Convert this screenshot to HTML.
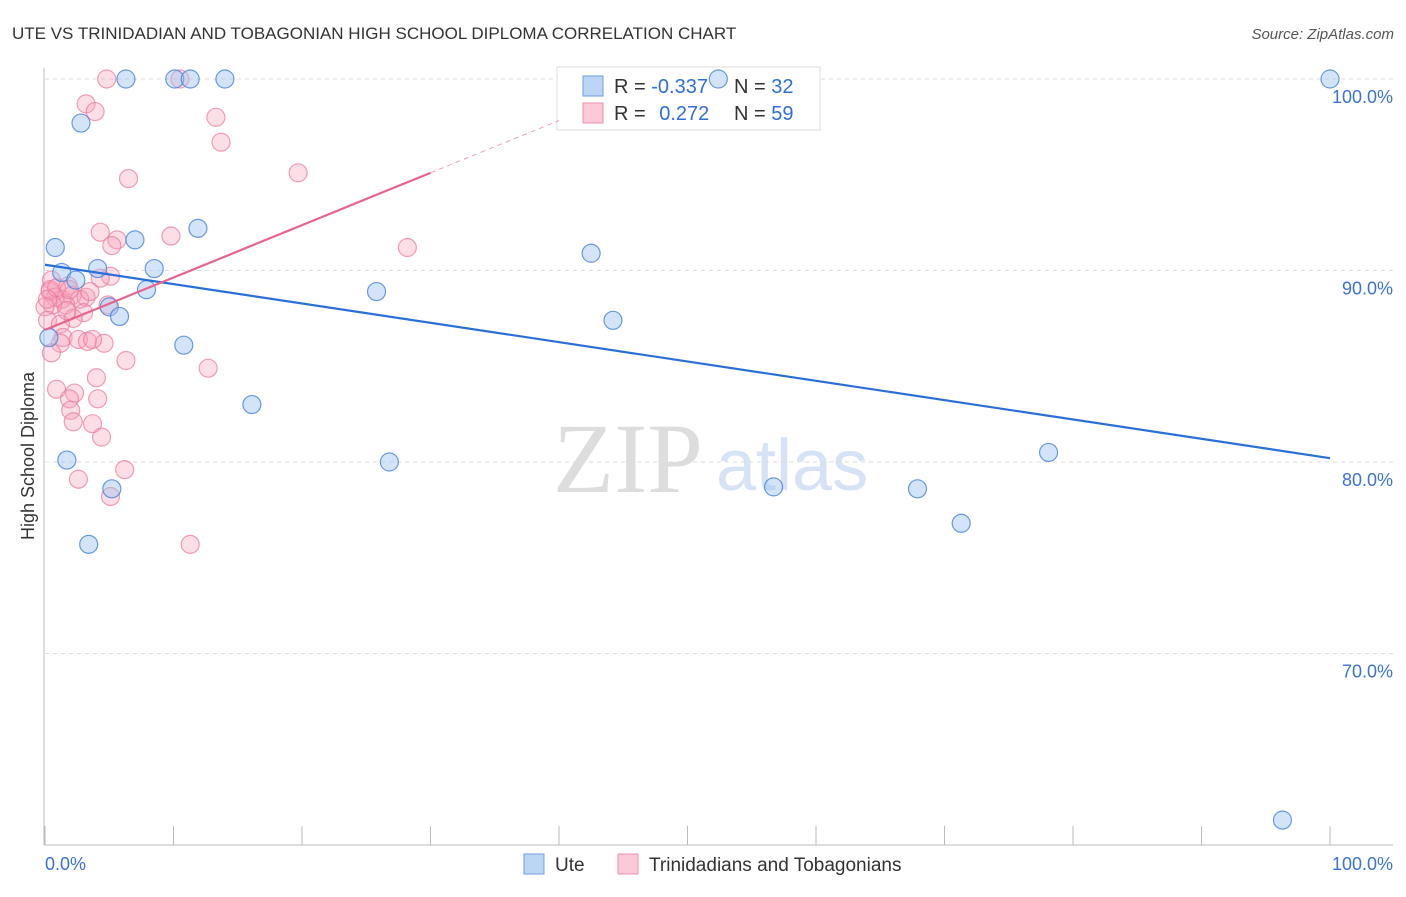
<!DOCTYPE html>
<html><head><meta charset="utf-8"><style>
body{margin:0;background:#fff;font-family:"Liberation Sans",sans-serif}
svg text{font-family:"Liberation Sans",sans-serif}
</style></head><body>
<svg width="1406" height="892" id="chart">
<text x="12" y="39" font-size="17" fill="#333">UTE VS TRINIDADIAN AND TOBAGONIAN HIGH SCHOOL DIPLOMA CORRELATION CHART</text>
<text x="1394" y="39" font-size="15" fill="#555" font-style="italic" text-anchor="end">Source: ZipAtlas.com</text>
<text x="0" y="0" font-size="18" fill="#333" transform="translate(34,456) rotate(-90)" text-anchor="middle">High School Diploma</text>
<text x="553" y="492" font-size="100" fill="#ddd" style="font-family:'Liberation Serif',serif">ZIP</text>
<text x="716" y="490" font-size="72" fill="#d6e2f5">atlas</text>
<g id="grid"></g>
<g id="axes"></g>
<g>
<rect x="557" y="67" width="263" height="63" fill="#fff" stroke="#ddd"/>
<rect x="583" y="76" width="20" height="20" fill="#bcd4f5" stroke="#6f9ee0"/>
<rect x="583" y="103" width="20" height="20" fill="#fbc9d8" stroke="#ee90ae"/>
<text x="614" y="93" font-size="20" fill="#333">R = <tspan fill="#2f6fd6">-0.337</tspan></text>
<text x="734" y="93" font-size="20" fill="#333">N = <tspan fill="#2f6fd6">32</tspan></text>
<text x="614" y="120" font-size="20" fill="#333">R = <tspan fill="#2f6fd6" dx="8">0.272</tspan></text>
<text x="734" y="120" font-size="20" fill="#333">N = <tspan fill="#2f6fd6">59</tspan></text>
</g>
<g id="pts"></g>
<g id="lines"></g>
<g>
<rect x="524" y="854" width="20" height="20" fill="#bcd4f5" stroke="#6f9ee0"/>
<text x="555" y="871" font-size="19" fill="#333">Ute</text>
<rect x="618" y="854" width="20" height="20" fill="#fbc9d8" stroke="#ee90ae"/>
<text x="649" y="871" font-size="19" fill="#333">Trinidadians and Tobagonians</text>
</g>
</svg>
<script>
const yTicks=[100,90,80,70];
const yTickLabels=["100.0%","90.0%","80.0%","70.0%"];
const xTickLabels=["0.0%","100.0%"];
const uteX=[6.3,10.1,11.3,14.0,52.4,100,2.8,0.8,7.0,11.9,42.5,4.1,8.5,1.3,2.4,7.9,25.8,5.0,5.8,44.2,0.3,10.8,16.1,1.7,26.8,78.1,5.2,56.7,67.9,71.3,3.4,96.3];
const uteY=[100,100,100,100,100,100,97.7,91.2,91.6,92.2,90.9,90.1,90.1,89.9,89.5,89.0,88.9,88.1,87.6,87.4,86.5,86.1,83.0,80.1,80.0,80.5,78.6,78.7,78.6,76.8,75.7,61.3];
const triX=[4.8,10.5,3.2,3.9,13.3,13.7,6.5,19.7,4.3,5.6,9.8,5.2,28.2,0.5,5.1,4.3,1.8,0.4,0.8,1.3,2.1,3.2,2.7,1.6,0.6,0,4.9,3.0,2.2,0.2,1.2,1.4,2.6,3.3,4.6,1.2,0.5,6.3,12.7,4.0,0.9,2.3,4.1,1.9,2.0,2.2,3.7,4.4,2.6,6.2,5.1,11.3,0.4,3.5,0.9,1.9,0.2,1.7,3.7];
const triY=[100,100,98.7,98.3,98.0,96.7,94.8,95.1,92.0,91.6,91.8,91.3,91.2,89.5,89.7,89.6,89.2,88.9,88.6,88.5,88.7,88.6,88.5,88.2,88.2,88.1,88.2,87.8,87.5,87.4,87.2,86.5,86.4,86.3,86.2,86.2,85.7,85.3,84.9,84.4,83.8,83.6,83.3,83.3,82.7,82.1,82.0,81.3,79.1,79.6,78.2,75.7,89.0,88.9,89.1,89.0,88.5,87.9,86.4];
const uteTrend=[90.3,80.2];
const triTrend=[86.9,95.1];
const NS="http://www.w3.org/2000/svg";
const sx=v=>45+v*12.85;
const sy=v=>79+(100-v)*19.15;
function mk(tag,attrs,parent){const e=document.createElementNS(NS,tag);for(const k in attrs)e.setAttribute(k,attrs[k]);document.getElementById(parent).appendChild(e);return e;}
yTicks.forEach((t,i)=>{
 const g=mk('line',{x1:45,x2:1393,y1:sy(t),y2:sy(t),stroke:'#ddd','stroke-dasharray':'4,4'},'grid');
 
 
 const tx=mk('text',{x:1393,y:sy(t)+24,'font-size':18,fill:'#3b73d0','text-anchor':'end'},'grid');
 tx.textContent=yTickLabels[i];
 
 
});
let a=mk('line',{x1:44,x2:44,y1:68,y2:845,stroke:'#bbb'},'axes');


a=mk('line',{x1:44,x2:1393,y1:845,y2:845,stroke:'#bbb'},'axes');


for(let i=0;i<=10;i++){
 const t=mk('line',{x1:sx(i*10),x2:sx(i*10),y1:826,y2:845,stroke:'#bbb'},'axes');
 
 
}
[[0,'start',45],[1,'end',1393]].forEach(([i,anc,x])=>{
 const t=mk('text',{x:x,y:870,'font-size':18,fill:'#3b73d0','text-anchor':anc},'axes');
 t.textContent=xTickLabels[i];
 
 
});
triX.forEach((x,i)=>{
 const c=mk('circle',{cx:sx(x),cy:sy(triY[i]),r:9,fill:'rgba(246,160,186,0.35)',stroke:'rgba(232,120,155,0.7)','stroke-width':1.2},'pts');
 
 
});
uteX.forEach((x,i)=>{
 const c=mk('circle',{cx:sx(x),cy:sy(uteY[i]),r:9,fill:'rgba(160,196,240,0.45)',stroke:'rgba(70,130,215,0.8)','stroke-width':1.2},'pts');
 
 
});
let l=mk('line',{x1:sx(0),y1:sy(uteTrend[0]),x2:sx(100),y2:sy(uteTrend[1]),stroke:'#2a6fd8','stroke-width':2.2},'lines');


const slope=(triTrend[1]-triTrend[0])/30;
l=mk('line',{x1:sx(0),y1:sy(triTrend[0]),x2:sx(30),y2:sy(triTrend[1]),stroke:'#e8638f','stroke-width':2.2},'lines');


l=mk('line',{x1:sx(30),y1:sy(triTrend[1]),x2:sx(40),y2:sy(triTrend[1]+slope*10),stroke:'#eda0b8','stroke-width':1,'stroke-dasharray':'5,4'},'lines');


</script>
</body></html>
